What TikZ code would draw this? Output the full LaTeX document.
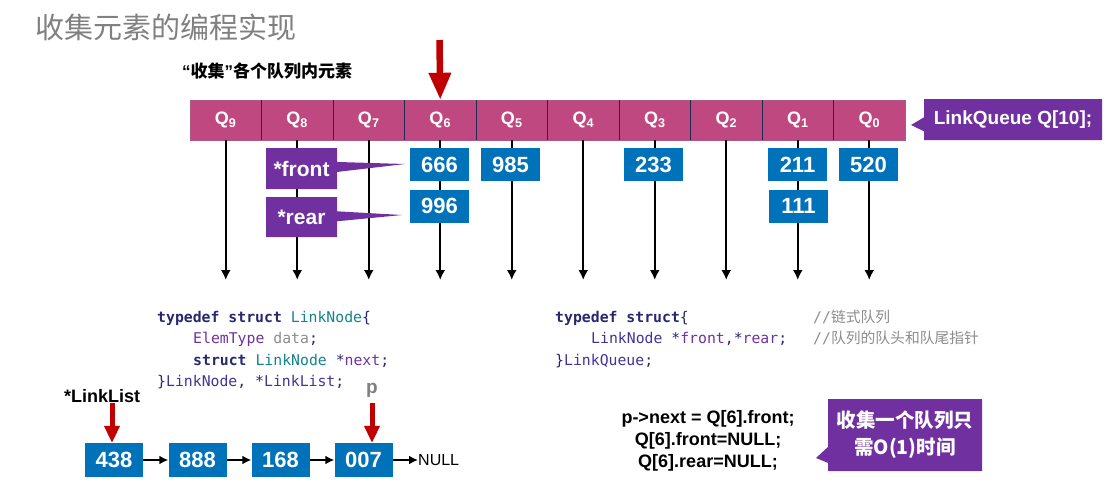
\documentclass[tikz,border=0pt]{standalone}
\usepackage{fontspec}
\setmainfont{Liberation Sans}
\setmonofont{DejaVu Sans Mono}
\newfontfamily\cjk{Noto Sans CJK SC}
\usepackage{tikz}
\usetikzlibrary{arrows.meta, shapes.callouts}

\definecolor{qpink}{RGB}{192,72,128}
\definecolor{qpurple}{RGB}{112,48,160}
\definecolor{qblue}{RGB}{0,114,186}
\definecolor{qred}{RGB}{192,0,0}
\definecolor{qnavy}{RGB}{30,40,80}
\definecolor{kwcol}{RGB}{40,40,110}
\definecolor{typecol}{RGB}{20,130,140}
\definecolor{idcol}{RGB}{110,50,160}
\definecolor{namecol}{RGB}{70,50,150}
\definecolor{cmtcol}{RGB}{140,140,140}

\newcommand\kw[1]{\textcolor{kwcol}{\bfseries #1}}
\newcommand\ty[1]{\textcolor{typecol}{#1}}
\newcommand\vid[1]{\textcolor{idcol}{#1}}
\newcommand\nm[1]{\textcolor{namecol}{#1}}
\newcommand\pl[1]{\textcolor{kwcol}{#1}}
\newcommand\cm[1]{\textcolor{cmtcol}{#1}}

\tikzset{
  cell/.style={minimum width=71.5pt, minimum height=40pt, inner sep=0pt, text=white, font=\fontsize{18}{18}\selectfont\bfseries},
  val/.style={fill=qblue, text=white, minimum width=59pt, minimum height=33pt, inner sep=0pt, font=\fontsize{22}{22}\selectfont\bfseries},
  callbox/.style={rectangle callout, fill=qpurple, text=white, inner sep=0pt},
  downarrow/.style={-{Latex[length=10pt,width=10pt]}, line width=2pt},
  redarrow/.style={qred, line width=5pt, -{Triangle[length=17pt,width=15pt]}},
  nextarrow/.style={-{Latex[length=9pt,width=9pt]}, line width=1.8pt},
  codeline/.style={anchor=base west, inner sep=0pt, font=\fontsize{14.8}{14.8}\selectfont\ttfamily},
}

\begin{document}
\begin{tikzpicture}[x=1pt, y=-1pt]
\useasboundingbox (0,0) rectangle (1120,493);

% titles
\node[anchor=west, inner sep=0pt, text=gray, font=\cjk\fontsize{29}{29}\selectfont] (title) at (35,27.5) {收集元素的编程实现};
\node[anchor=west, inner sep=0pt, font=\fontsize{17}{17}\selectfont\bfseries] (sub) at (182,71) {“{\cjk 收集}”{\cjk 各个队列内元素}};

% the ten queues
\fill[qpink] (190,100) rectangle (905,140);
\draw[qpink!70!gray, line width=0.6pt] (190,100) rectangle (905,140);
\foreach \i in {0,...,9}{
  \node[cell] (Q\i) at ({869.25-71.5*\i},120) {Q\textsubscript{\i}};
}
\foreach \k in {1,...,9}{
  \draw[qnavy, line width=1pt] ({190+71.5*\k},100) -- ({190+71.5*\k},140);
}
\foreach \i in {0,...,9}{
  \coordinate (E\i) at ({869.25-71.5*\i},280);
  \draw[downarrow] (Q\i.south) -- (E\i);
}

% picked queue
\coordinate (pick) at (439.5,40);
\draw[qred, line width=6.5pt, -{Triangle[length=27pt,width=21pt]}] (pick) -- (Q6.north);

% elements
\node[val] (v666) at (439.5,164.5) {666};
\node[val] (v996) at (439.5,206) {996};
\node[val] (v985) at (510.5,164.5) {985};
\node[val] (v233) at (653.5,164.5) {233};
\node[val] (v211) at (797.5,164.5) {211};
\node[val] (v111) at (798.5,206) {111};
\node[val] (v520) at (868.5,164.5) {520};

\node[callbox, minimum width=71pt, minimum height=41pt, font=\fontsize{21}{21}\selectfont\bfseries,
  callout absolute pointer={(405,164)}, callout pointer width=10pt] (front) at (301.5,168.5) {*front};
\node[callbox, minimum width=71pt, minimum height=40pt, font=\fontsize{21}{21}\selectfont\bfseries,
  callout absolute pointer={(402,215)}, callout pointer width=10pt] (rear) at (301.5,217) {*rear};
\node[callbox, minimum width=178pt, minimum height=41pt, font=\fontsize{19}{19}\selectfont\bfseries,
  callout absolute pointer={(911,125)}, callout pointer width=14pt] (lq) at (1013,119.5) {LinkQueue Q[10];};

% code
\node[codeline] (c1) at (157,322) {\kw{typedef struct} \ty{LinkNode}\pl{\{}};
\node[codeline] (c2) at (193,343.5) {\vid{ElemType} \cm{data}\pl{;}};
\node[codeline] (c3) at (193,365) {\kw{struct} \ty{LinkNode} \pl{*}\vid{next}\pl{;}};
\node[codeline] (c4) at (157,386.5) {\pl{\}}\nm{LinkNode}\pl{, *}\nm{LinkList}\pl{;}};

\node[codeline] (r1) at (555,322) {\kw{typedef struct}\pl{\{}};
\node[codeline] (r2) at (591,343.5) {\nm{LinkNode} \pl{*}\vid{front}\pl{,*}\vid{rear}\pl{;}};
\node[codeline] (r3) at (555,365) {\pl{\}}\nm{LinkQueue}\pl{;}};
\node[codeline] (m1) at (813,322) {\cm{//{\cjk 链式队列}}};
\node[codeline] (m2) at (813,343.5) {\cm{//{\cjk 队列的队头和队尾指针}}};

% linked list
\node[val, minimum width=58pt, minimum height=34pt] (n1) at (114,460) {438};
\node[val, minimum width=58pt, minimum height=34pt] (n2) at (197.5,460) {888};
\node[val, minimum width=58pt, minimum height=34pt] (n3) at (280.5,460) {168};
\node[val, minimum width=58pt, minimum height=34pt] (n4) at (363.5,460) {007};
\node[anchor=west, inner sep=0pt, font=\fontsize{16}{16}\selectfont] (null) at (418,460) {NULL};
\draw[nextarrow] (n1) -- (n2);
\draw[nextarrow] (n2) -- (n3);
\draw[nextarrow] (n3) -- (n4);
\draw[nextarrow] (n4) -- (null);

\node[anchor=west, inner sep=0pt, font=\fontsize{18}{18}\selectfont\bfseries] (head) at (64,396) {*LinkList};
\coordinate (hp) at (112,403);
\draw[redarrow] (hp) -- (hp |- n1.north);
\node[inner sep=0pt, text=gray, font=\fontsize{19}{19}\selectfont\bfseries] (p) at (372,390) {p};
\coordinate (pp) at (372,403);
\draw[redarrow] (pp) -- (pp |- n4.north);

% collecting
\node[align=center, inner sep=0pt, font=\fontsize{18}{22}\selectfont\bfseries] (stmt) at (708,441)
  {p->next = Q[6].front;\\Q[6].front=NULL;\\Q[6].rear=NULL;};
\node[callbox, minimum width=154pt, minimum height=72pt, align=center,
  font=\cjk\bfseries\fontsize{19.5}{27}\selectfont,
  callout absolute pointer={(816,458)}, callout pointer width=16pt] (cost) at (905,435)
  {收集一个队列只\\需O(1)时间};
\end{tikzpicture}
\end{document}
